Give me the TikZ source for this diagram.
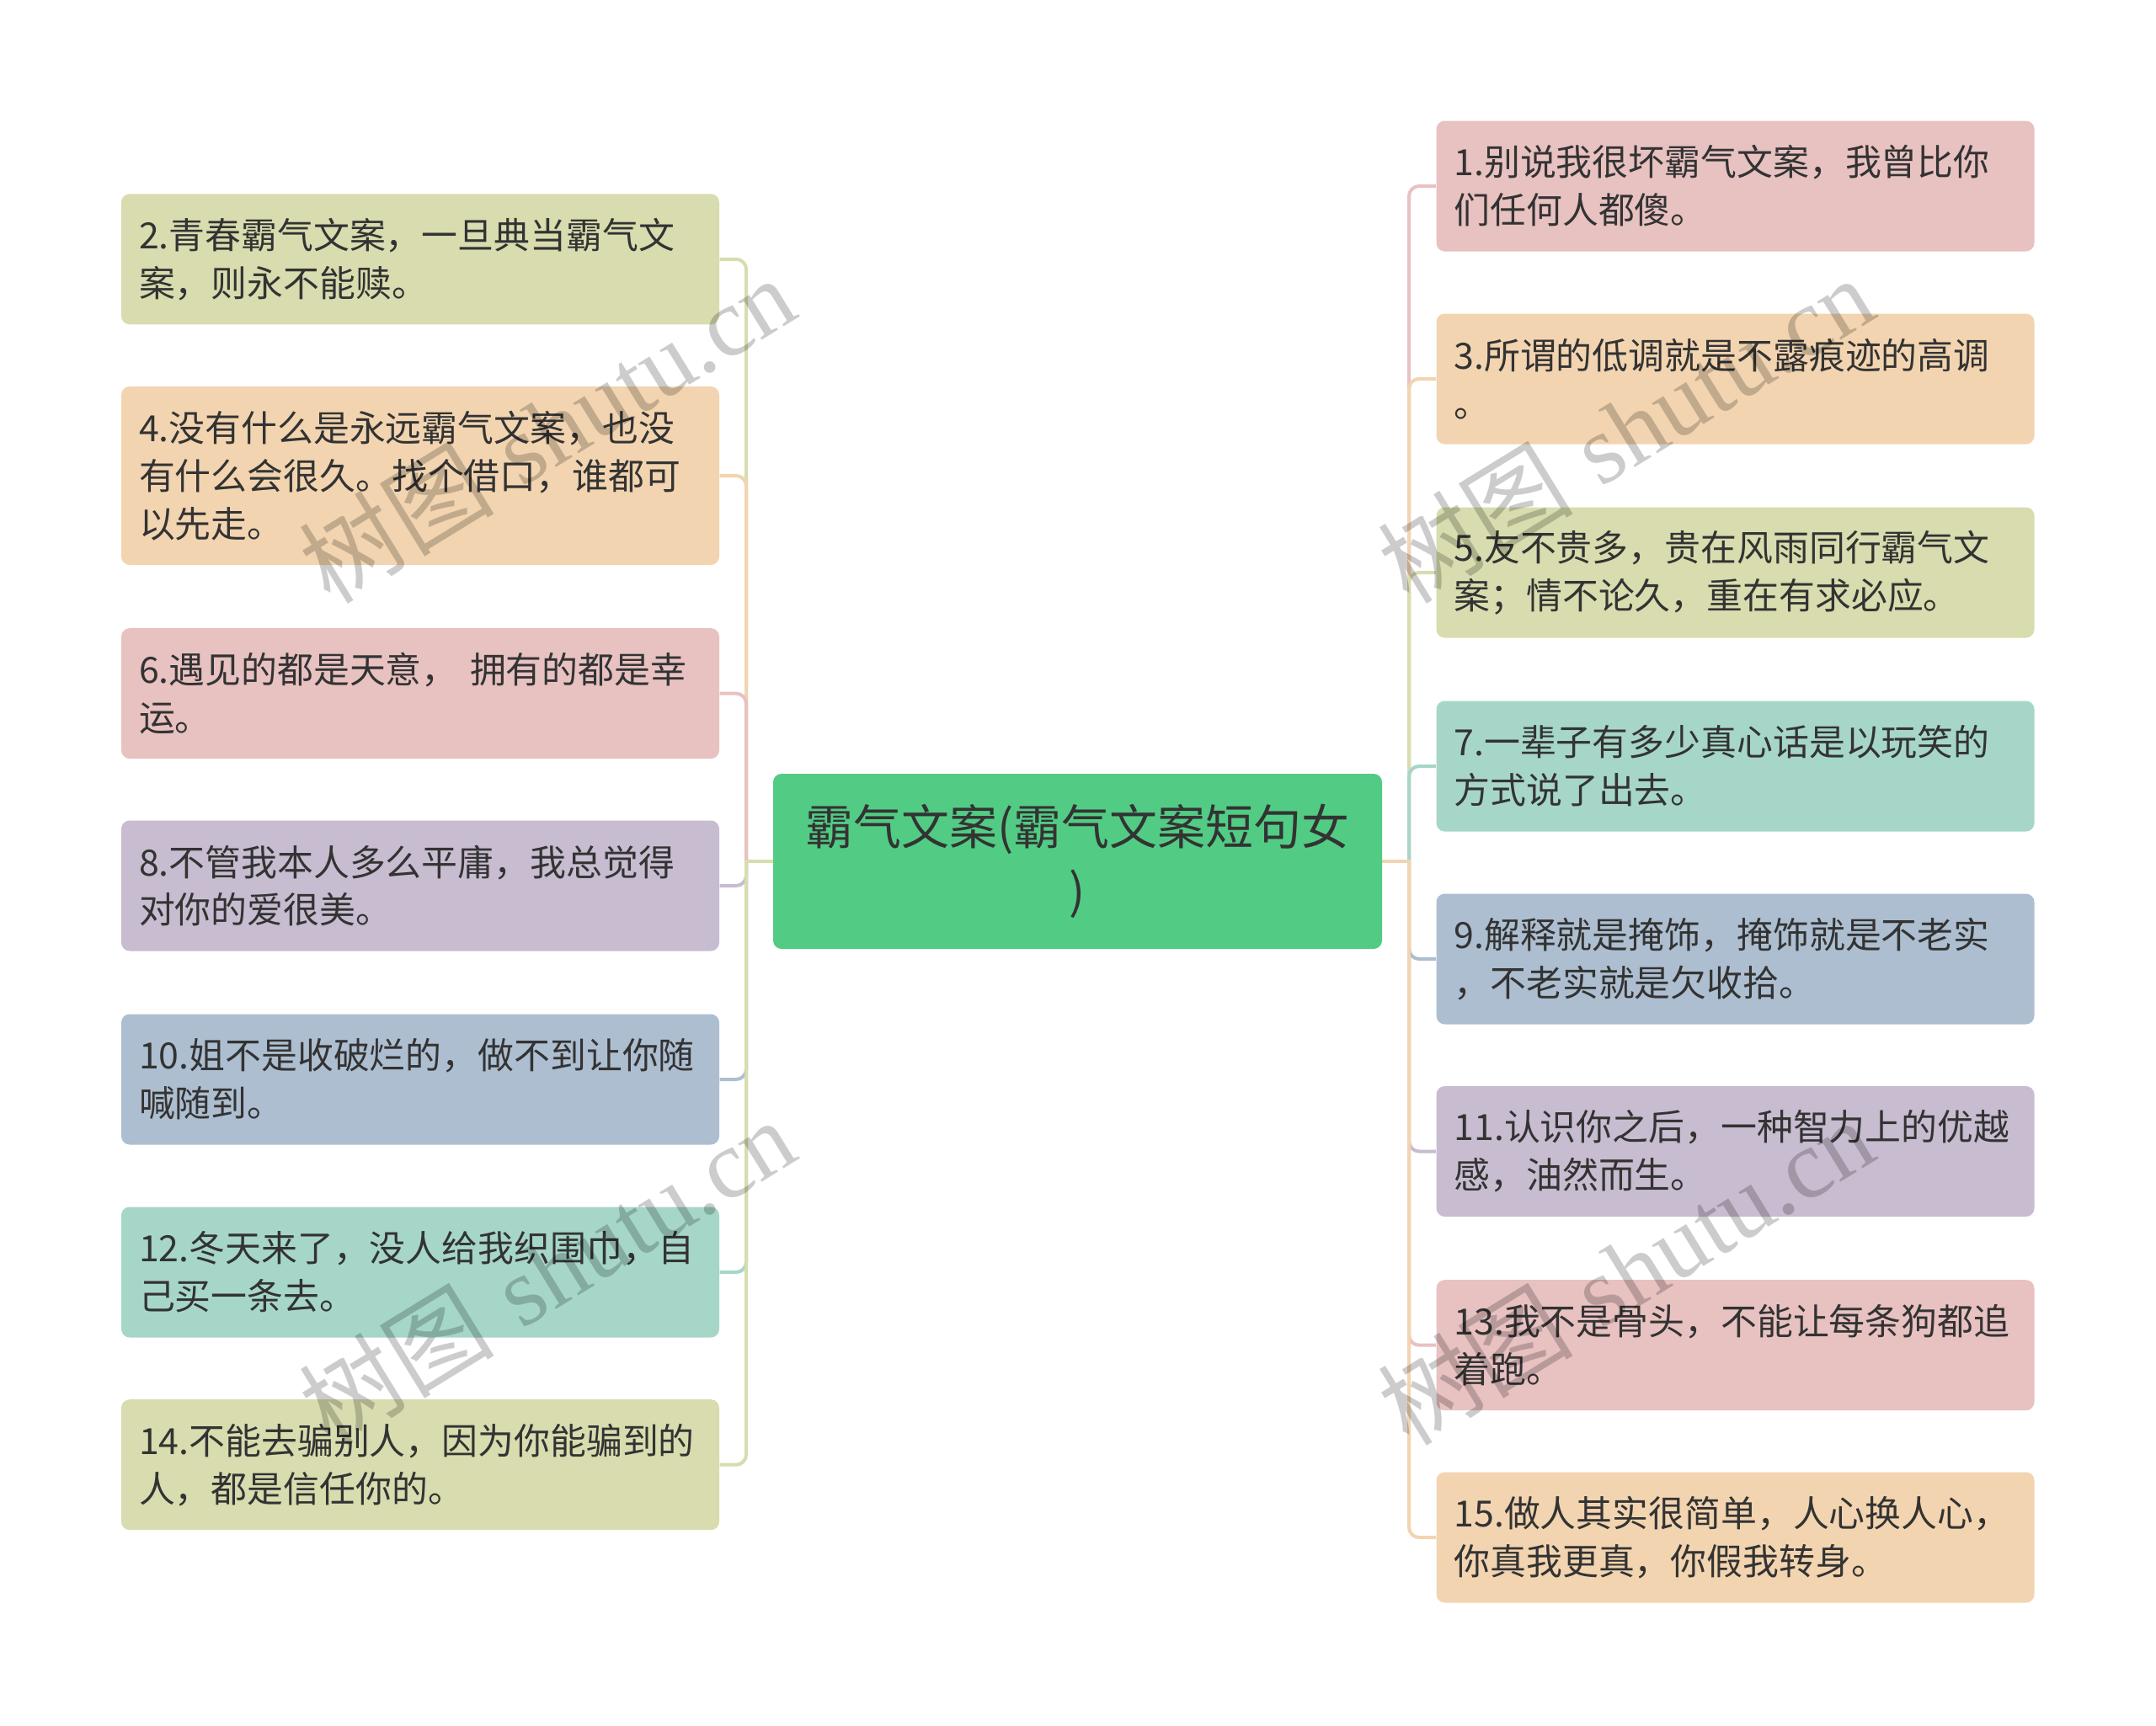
\documentclass[tikz,border=0pt]{standalone}
\usepackage{fontspec}
\newfontfamily\cjk{Noto Sans CJK SC}
\newfontfamily\wmserif{Liberation Serif}
\usetikzlibrary{backgrounds}
\definecolor{cgreen}{HTML}{52CC84}
\definecolor{colive}{HTML}{D8DCAE}
\definecolor{cpeach}{HTML}{F2D4B0}
\definecolor{cpink}{HTML}{E8C1C1}
\definecolor{clav}{HTML}{C8BCD0}
\definecolor{cblue}{HTML}{ADBED0}
\definecolor{cteal}{HTML}{A6D6C8}
\definecolor{ctxt}{HTML}{333333}
\tikzset{
  leaf/.style={rounded corners=0.1cm, minimum width=7.1cm, text width=6.68cm,
    inner xsep=0.21cm, inner ysep=0pt, align=left, text=ctxt,
    font=\cjk\fontsize{12.2pt}{16.2pt}\selectfont, minimum height=1.55cm},
  root/.style={rounded corners=0.1cm, fill=cgreen, minimum width=7.23cm,
    minimum height=2.08cm, align=center, text=ctxt,
    font=\cjk\fontsize{16.2pt}{21.8pt}\selectfont},
  connline/.style={line width=0.04cm},
  bendline/.style={line width=0.04cm, rounded corners=0.12cm},
  wmark/.style={text=black, text opacity=0.2, rotate=31.6,
    font=\fontsize{33pt}{38pt}\selectfont}
}
\begin{document}
\begin{tikzpicture}
\useasboundingbox (0,0) rectangle (25.6,-20.49);

\node[root] (c) at (12.795,-10.23) {霸气文案(霸气文案短句女\\)};

% left side
\node[leaf, fill=colive] (n2) at (4.99,-3.078) {2.青春霸气文案，一旦典当霸气文\\案，则永不能赎。};
\node[leaf, fill=cpeach, minimum height=2.12cm] (n4) at (4.99,-5.65) {4.没有什么是永远霸气文案，也没\\有什么会很久。找个借口，谁都可\\以先走。};
\node[leaf, fill=cpink] (n6) at (4.99,-8.236) {6.遇见的都是天意， 拥有的都是幸\\运。};
\node[leaf, fill=clav] (n8) at (4.99,-10.52) {8.不管我本人多么平庸，我总觉得\\对你的爱很美。};
\node[leaf, fill=cblue] (n10) at (4.99,-12.82) {10.姐不是收破烂的，做不到让你随\\喊随到。};
\node[leaf, fill=cteal] (n12) at (4.99,-15.11) {12.冬天来了，没人给我织围巾，自\\己买一条去。};
\node[leaf, fill=colive] (n14) at (4.99,-17.397) {14.不能去骗别人，因为你能骗到的\\人，都是信任你的。};

% right side
\node[leaf, fill=cpink] (n1) at (20.605,-2.21) {1.别说我很坏霸气文案，我曾比你\\们任何人都傻。};
\node[leaf, fill=cpeach] (n3) at (20.605,-4.50) {3.所谓的低调就是不露痕迹的高调\\。};
\node[leaf, fill=colive] (n5) at (20.605,-6.80) {5.友不贵多，贵在风雨同行霸气文\\案；情不论久，重在有求必应。};
\node[leaf, fill=cteal] (n7) at (20.605,-9.10) {7.一辈子有多少真心话是以玩笑的\\方式说了出去。};
\node[leaf, fill=cblue] (n9) at (20.605,-11.39) {9.解释就是掩饰，掩饰就是不老实\\，不老实就是欠收拾。};
\node[leaf, fill=clav] (n11) at (20.605,-13.675) {11.认识你之后，一种智力上的优越\\感，油然而生。};
\node[leaf, fill=cpink] (n13) at (20.605,-15.977) {13.我不是骨头，不能让每条狗都追\\着跑。};
\node[leaf, fill=cpeach] (n15) at (20.605,-18.26) {15.做人其实很简单，人心换人心，\\你真我更真，你假我转身。};

\coordinate (jL) at (8.86,-10.23);
\coordinate (jR) at (16.73,-10.23);

\begin{scope}[on background layer]
\fill[white] (0,0) rectangle (25.6,-20.49);
\foreach \n/\col in {n2/colive, n4/cpeach, n6/cpink, n8/clav, n10/cblue, n12/cteal, n14/colive}{
  \draw[connline, \col, line cap=rect] (c.west) -- (jL);
  \draw[bendline, \col] (jL) |- (\n.east);
}
\foreach \n/\col in {n1/cpink, n3/cpeach, n5/colive, n7/cteal, n9/cblue, n11/clav, n13/cpink, n15/cpeach}{
  \draw[connline, \col, line cap=rect] (c.east) -- (jR);
  \draw[bendline, \col] (jR) |- (\n.west);
}
\end{scope}

% watermarks
\node[wmark] (w1) at (6.49,-5.1) {{\cjk 树图} \wmserif shutu.cn};
\node[wmark] (w2) at (6.49,-15.1) {{\cjk 树图} \wmserif shutu.cn};
\node[wmark] (w3) at (19.3,-5.1) {{\cjk 树图} \wmserif shutu.cn};
\node[wmark] (w4) at (19.3,-15.1) {{\cjk 树图} \wmserif shutu.cn};
\end{tikzpicture}
\end{document}
